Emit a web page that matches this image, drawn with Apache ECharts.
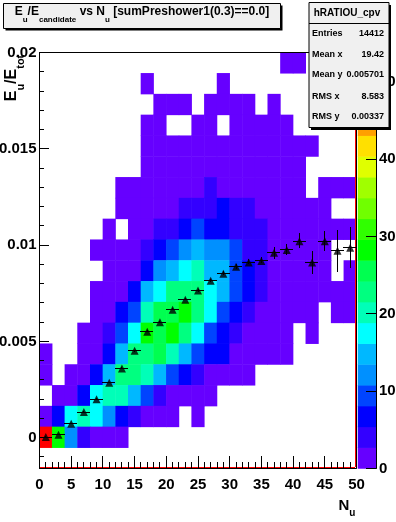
<!DOCTYPE html>
<html>
<head>
<meta charset="utf-8">
<style>html,body{margin:0;padding:0;background:#fff}#main{width:396px;height:522px}</style>
<script src="https://cdn.jsdelivr.net/npm/echarts@6/dist/echarts.min.js"></script>
</head>
<body>
<div id="main"></div>
<script>
var counts = [
 [0,0,0,0,0,0,0,0,0,0,0,0,0,0,0,0,0,0,0,13,13,0,0,0,0],
 [0,0,0,0,0,0,0,0,13,0,0,0,0,0,13,0,0,0,0,0,0,0,0,0,0],
 [0,0,0,0,0,0,0,0,0,13,13,13,0,13,13,13,13,0,13,0,0,0,0,0,0],
 [0,0,0,0,0,0,0,0,13,13,0,0,13,13,0,13,13,13,13,13,0,0,0,0,0],
 [0,0,0,0,0,0,0,0,13,13,13,13,13,13,13,13,13,13,13,13,13,13,0,0,0],
 [0,0,0,0,0,0,0,0,13,13,13,13,13,13,13,13,13,13,13,13,13,0,0,0,0],
 [0,0,0,0,0,0,13,13,13,13,13,13,13,40,13,13,13,13,13,13,13,0,13,13,13],
 [0,0,0,0,0,0,13,13,13,13,13,40,40,40,67,40,40,13,13,13,13,13,13,0,0],
 [0,0,0,0,0,13,0,13,13,40,40,67,94,67,67,40,40,40,13,13,13,13,13,13,13],
 [0,0,0,0,13,13,13,13,40,67,94,121,148,121,121,94,40,40,13,13,13,13,13,0,0],
 [0,0,0,0,0,13,13,13,67,121,148,175,202,148,148,94,67,40,13,13,13,13,13,0,13],
 [0,0,0,0,13,13,13,67,148,175,229,229,229,175,148,94,67,40,13,13,13,13,13,13,13],
 [0,0,0,0,13,13,67,94,202,256,256,283,229,175,94,67,40,13,13,13,13,13,0,13,13],
 [0,0,0,13,13,40,94,175,283,256,283,229,175,94,67,40,13,13,13,13,0,13,0,0,0],
 [13,0,0,13,13,67,148,229,229,256,202,148,94,67,67,13,13,13,13,13,0,0,0,0,0],
 [13,0,13,13,67,148,229,229,202,148,94,67,40,13,13,13,13,0,0,0,0,0,0,0,0],
 [0,13,13,67,175,202,202,148,94,40,13,13,13,13,0,0,0,0,0,0,0,0,0,0,0],
 [13,67,175,202,175,121,67,40,13,13,13,0,13,0,0,0,0,0,0,0,0,0,0,0,0],
 [525,283,121,40,13,13,13,0,0,0,0,0,0,0,0,0,0,0,0,0,0,0,0,0,0],
 [0,0,0,0,0,0,0,0,0,0,0,0,0,0,0,0,0,0,0,0,0,0,0,0,0]
];
// profile points
var profileX = [1,3,5,7,9,11,13,15,17,19,21,23,25,27,29,31,33,35,37,39,41,43,45,47,49];
var profileY = [0.00003,0.00015,0.00072,0.00133,0.0020,0.00285,0.00359,0.00451,0.0055,0.0060,0.00664,0.00716,0.00764,0.00815,0.00851,0.00887,0.0091,0.00918,0.0096,0.00975,0.0102,0.0091,0.0102,0.0097,0.00986];
var profileYErr = [0.00001,0.00002,0.00002,0.00002,0.00003,0.00003,0.00003,0.00004,0.00004,0.00005,0.00005,0.00006,0.00007,0.00008,0.0001,0.00012,0.00014,0.00016,0.0003,0.00028,0.00038,0.00059,0.00051,0.00108,0.00106];
var majorX = [0,5,10,15,20,25,30,35,40,45,50];
var minorX = [1,2,3,4,6,7,8,9,11,12,13,14,16,17,18,19,21,22,23,24,26,27,28,29,31,32,33,34,36,37,38,39,41,42,43,44,46,47,48,49];
var majorY = [0,0.005,0.01,0.015,0.02];
var minorY = [-0.001,0.001,0.002,0.003,0.004,0.006,0.007,0.008,0.009,0.011,0.012,0.013,0.014,0.016,0.017,0.018,0.019];
var barTicks = [0,100,200,300,400,500];
var palette = ['#6600ff','#3300ff','#0000ff','#0044ff','#0090ff','#00b8ff','#00ffff','#00ffb8','#00ff80','#00ff50','#00ff00','#30ff00','#70ff00','#a0ff00','#e0ff00','#ffe000','#ffa000','#ff7000','#ff4000','#ff0000'];
var outlineX = [0,49.84,49.84];
var outlineY = [-0.00155,-0.00155,0.02];
var frameX = [0,50,50];
var frameY = [0.02,0.02,-0.0016];
var statLabels = ['Entries','Mean x','Mean y','RMS x','RMS y'];
var statValues = ['14412','19.42','0.005701','8.583','0.00337'];

var yMin = -0.0016, yMax = 0.02, zMax = 538;
var step = zMax / palette.length;

var heat = [];
var nRows = counts.length;
for (var j = 0; j < nRows; j++) {
  for (var k = 0; k < counts[j].length; k++) {
    if (counts[j][k] > 0) heat.push([k, nRows - 1 - j, counts[j][k]]);
  }
}
var barData = [], pieces = [], levelIdx = [];
for (var i = 0; i < palette.length; i++) {
  barData.push([0, i, (i + 0.5) * step]);
  pieces.push({gte: i * step, lt: (i + 1) * step, color: palette[i]});
  levelIdx.push(i);
}
var colIdx = counts[0].map(function (v, i) { return i; });
var rowIdx = counts.map(function (v, i) { return i; });
var profile = profileX.map(function (x, i) { return [x, profileY[i], profileYErr[i]]; });

var font = 'Liberation Sans';
var plot = {left: 39.5, top: 52.5, width: 317, height: 416, outerBoundsMode: 'none'};
var bar = {left: 358, top: 52.5, width: 18, height: 416, outerBoundsMode: 'none'};

function hiddenCat(idx, data) {
  return {type: 'category', gridIndex: idx, data: data, show: false};
}

// 1px thick bar between two pixel points, drawn as a filled rect
function pixRect(x1, y1, x2, y2, color) {
  var x = Math.floor(Math.min(x1, x2)), y = Math.floor(Math.min(y1, y2));
  return {
    type: 'rect',
    shape: {x: x, y: y, width: Math.max(1, Math.round(Math.abs(x2 - x1))), height: Math.max(1, Math.round(Math.abs(y2 - y1)))},
    style: {fill: color}
  };
}

function renderErr(params, api) {
  var x = api.value(0), y = api.value(1), e = api.value(2);
  var a = api.coord([x - 1, y]), b = api.coord([x + 1, y]);
  var c = api.coord([x, y - e]), d = api.coord([x, y + e]);
  return {type: 'group', children: [
    pixRect(a[0], a[1], b[0], b[1], '#000'),
    pixRect(c[0], c[1], d[0], d[1], '#000')
  ]};
}

// inner ticks, dx/dy is the pixel run from the axis into the plot
function tickSeries(xIdx, yIdx, points, dx, dy) {
  return {
    type: 'custom', xAxisIndex: xIdx, yAxisIndex: yIdx, data: points, z: 5, clip: false, silent: true,
    renderItem: function (params, api) {
      var p = api.coord([api.value(0), api.value(1)]);
      return pixRect(p[0], p[1], p[0] + dx, p[1] + dy, '#000');
    }
  };
}
function onX(list) { return list.map(function (v) { return [v, yMin]; }); }
function onY(list) { return list.map(function (v) { return [0, v]; }); }
function onBar(list) { return list.map(function (v) { return [1, v]; }); }

// connected segments in data coordinates, used for the plot frame and the red outline
function pathSeries(xs, ys, color, z) {
  var segs = [];
  for (var n = 0; n + 1 < xs.length; n++) segs.push([xs[n], ys[n], xs[n + 1], ys[n + 1]]);
  return {
    type: 'custom', xAxisIndex: 1, yAxisIndex: 1, data: segs, z: z, clip: false, silent: true,
    renderItem: function (params, api) {
      var a = api.coord([api.value(0), api.value(1)]);
      var b = api.coord([api.value(2), api.value(3)]);
      return pixRect(a[0], a[1], b[0], b[1], color);
    }
  };
}

function tok(size) {
  return {fontSize: size, fontWeight: 'bold', fontFamily: font, fill: '#000'};
}
function richSet(big, small, h) {
  var b = tok(big), s = tok(small);
  b.lineHeight = h; s.lineHeight = h;
  b.verticalAlign = 'top'; s.verticalAlign = 'bottom';
  return {b: b, s: s};
}

var statsChildren = [
  {type: 'rect', z: 100, shape: {x: 311, y: 5, width: 80, height: 125}, style: {fill: '#000'}},
  {type: 'rect', z: 101, shape: {x: 309, y: 2.5, width: 80, height: 125}, style: {fill: '#f0f0f0', stroke: '#000', lineWidth: 1}},
  {type: 'rect', z: 102, shape: {x: 309, y: 23, width: 80, height: 1}, style: {fill: '#000'}},
  {type: 'text', z: 102, x: 347, y: 13, style: {text: 'hRATIOU_cpv', font: 'bold 10px ' + font, fill: '#000', textAlign: 'center', textVerticalAlign: 'middle'}}
];
var statY = [34, 55, 75, 97, 117];
statLabels.forEach(function (s, i) {
  statsChildren.push({type: 'text', z: 102, x: 312, y: statY[i], style: {text: s, font: 'bold 9px ' + font, fill: '#000', textAlign: 'left', textVerticalAlign: 'middle'}});
  statsChildren.push({type: 'text', z: 102, x: 384, y: statY[i], style: {text: statValues[i], font: 'bold 9px ' + font, fill: '#000', textAlign: 'right', textVerticalAlign: 'middle'}});
});

var myChart = echarts.init(document.getElementById('main'));
var option = {
  animation: false,
  backgroundColor: '#fff',
  textStyle: {fontFamily: font},
  grid: [plot, plot, bar, bar],
  xAxis: [
    hiddenCat(0, colIdx),
    {type: 'value', gridIndex: 1, min: 0, max: 50, interval: 5, splitLine: {show: false},
     axisLine: {show: true, onZero: false, lineStyle: {color: '#000'}},
     axisTick: {show: false},
     axisLabel: {color: '#000', fontWeight: 'bold', fontSize: 15, fontFamily: font, margin: 9}},
    hiddenCat(2, ['bar']),
    {type: 'value', gridIndex: 3, show: false, min: 0, max: 1}
  ],
  yAxis: [
    hiddenCat(0, rowIdx),
    {type: 'value', gridIndex: 1, position: 'left', min: yMin, max: yMax, splitLine: {show: false},
     axisLine: {show: true, onZero: false, lineStyle: {color: '#000'}},
     axisTick: {show: false},
     axisLabel: {customValues: majorY, color: '#000', fontWeight: 'bold', fontSize: 15, fontFamily: font, margin: 3}},
    hiddenCat(2, levelIdx),
    {type: 'value', gridIndex: 3, position: 'right', min: 0, max: zMax, splitLine: {show: false},
     axisLine: {show: true, onZero: false, lineStyle: {color: '#000'}},
     axisTick: {show: false},
     axisLabel: {customValues: barTicks, color: '#000', fontWeight: 'bold', fontSize: 15, fontFamily: font, margin: 3}}
  ],
  visualMap: {type: 'piecewise', show: false, seriesIndex: [0, 1], dimension: 2, pieces: pieces},
  series: [
    {type: 'heatmap', xAxisIndex: 0, yAxisIndex: 0, data: heat, z: -1, emphasis: {disabled: true}},
    {type: 'heatmap', xAxisIndex: 2, yAxisIndex: 2, data: barData, z: -1, emphasis: {disabled: true}},
    pathSeries(frameX, frameY, '#000', 3),
    pathSeries(outlineX, outlineY, '#f00', 4),
    tickSeries(1, 1, onX(majorX), 0, -12),
    tickSeries(1, 1, onX(minorX), 0, -6),
    tickSeries(1, 1, onY(majorY), 10, 0),
    tickSeries(1, 1, onY(minorY), 5, 0),
    tickSeries(3, 3, onBar(barTicks), -10, 0),
    {type: 'custom', xAxisIndex: 1, yAxisIndex: 1, data: profile, renderItem: renderErr, z: 6, clip: false},
    {type: 'scatter', xAxisIndex: 1, yAxisIndex: 1, data: profile, symbol: 'triangle', symbolSize: 8, z: 7, itemStyle: {color: '#000'}}
  ],
  graphic: [
    {type: 'group', children: [
      {type: 'rect', z: 100, shape: {x: 5.5, y: 5.5, width: 277, height: 25}, style: {fill: '#000'}},
      {type: 'rect', z: 101, shape: {x: 3.5, y: 3.5, width: 277, height: 25}, style: {fill: '#f0f0f0', stroke: '#000', lineWidth: 1}},
      {type: 'text', z: 102, x: 142, y: 15, style: {
        text: '{b|E}{s|u}{b|/E}{s|candidate}{b| vs N}{s|u}{b| [sumPreshower1(0.3)==0.0]}',
        rich: richSet(12, 8, 18), textAlign: 'center', textVerticalAlign: 'middle'}}
    ]},
    {type: 'group', children: statsChildren},
    {type: 'text', z: 50, x: 15, y: 78, rotation: Math.PI / 2, style: {
      text: '{b|E}{s|u}{b|/E}{s|tot}', rich: richSet(16, 11, 22), textAlign: 'center', textVerticalAlign: 'middle'}},
    {type: 'text', z: 50, x: 347, y: 508, style: {
      text: '{b|N}{s|u}', rich: richSet(15, 10, 20), textAlign: 'center', textVerticalAlign: 'middle'}}
  ]
};
myChart.setOption(option);
</script>
</body>
</html>
